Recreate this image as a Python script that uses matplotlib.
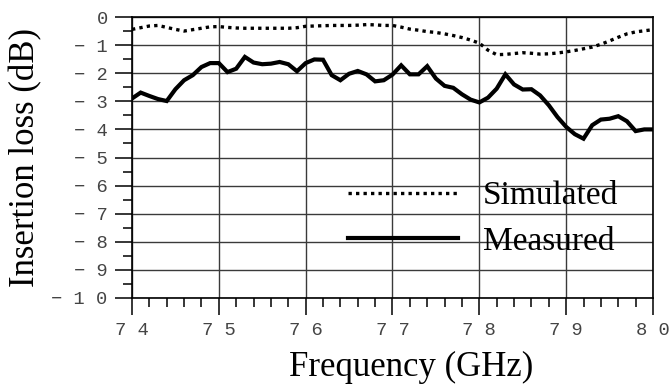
import numpy as np
import matplotlib
matplotlib.use("Agg")
import matplotlib.pyplot as plt
from matplotlib.ticker import MultipleLocator

# frequency grid (GHz), 0.1 GHz step
freq = [74.0, 74.1, 74.2, 74.3, 74.4, 74.5, 74.6, 74.7, 74.8, 74.9,
        75.0, 75.1, 75.2, 75.3, 75.4, 75.5, 75.6, 75.7, 75.8, 75.9,
        76.0, 76.1, 76.2, 76.3, 76.4, 76.5, 76.6, 76.7, 76.8, 76.9,
        77.0, 77.1, 77.2, 77.3, 77.4, 77.5, 77.6, 77.7, 77.8, 77.9,
        78.0, 78.1, 78.2, 78.3, 78.4, 78.5, 78.6, 78.7, 78.8, 78.9,
        79.0, 79.1, 79.2, 79.3, 79.4, 79.5, 79.6, 79.7, 79.8, 79.9,
        80.0]

# insertion loss in dB (S21)
simulated = [-0.44, -0.38, -0.32, -0.30, -0.37, -0.44, -0.50, -0.45, -0.40, -0.35,
             -0.34, -0.37, -0.39, -0.40, -0.40, -0.40, -0.40, -0.40, -0.40, -0.38,
             -0.33, -0.32, -0.31, -0.30, -0.30, -0.30, -0.29, -0.27, -0.28, -0.30,
             -0.30, -0.36, -0.43, -0.47, -0.52, -0.55, -0.60, -0.66, -0.73, -0.82,
             -0.93, -1.18, -1.34, -1.33, -1.30, -1.27, -1.29, -1.32, -1.31, -1.28,
             -1.24, -1.19, -1.13, -1.07, -0.97, -0.85, -0.72, -0.60, -0.53, -0.49,
             -0.45]

measured = [-2.90, -2.69, -2.81, -2.92, -2.99, -2.57, -2.25, -2.07, -1.78, -1.64,
            -1.64, -1.96, -1.84, -1.42, -1.62, -1.68, -1.66, -1.60, -1.68, -1.93,
            -1.64, -1.51, -1.52, -2.07, -2.25, -2.02, -1.92, -2.04, -2.29, -2.25,
            -2.05, -1.72, -2.04, -2.04, -1.75, -2.19, -2.45, -2.52, -2.75, -2.94,
            -3.04, -2.87, -2.55, -2.04, -2.40, -2.58, -2.57, -2.79, -3.14, -3.56,
            -3.91, -4.17, -4.33, -3.85, -3.65, -3.62, -3.53, -3.71, -4.06, -4.00,
            -4.00]

xticks = [74, 75, 76, 77, 78, 79, 80]
xticklabels = ["7 4", "7 5", "7 6", "7 7", "7 8", "7 9", "8 0"]
yticks = [0, -1, -2, -3, -4, -5, -6, -7, -8, -9, -10]
yticklabels = ["0", "\u2212 1", "\u2212 2", "\u2212 3", "\u2212 4", "\u2212 5",
               "\u2212 6", "\u2212 7", "\u2212 8", "\u2212 9", "\u2212 1 0"]

SERIF = ["Liberation Serif", "DejaVu Serif"]
MONO = ["Liberation Mono", "DejaVu Sans Mono"]

fig = plt.figure(figsize=(6.7, 3.85), dpi=100)
ax = fig.add_axes([0.197, 0.226, 0.7776, 0.7298])

# dotted = simulated, solid = measured
ax.plot(freq, simulated, color="black", linewidth=2.4,
        linestyle=(0, (1.0, 1.25)), dash_capstyle="butt", label="Simulated", zorder=3)
ax.plot(freq, measured, color="black", linewidth=3.0,
        solid_joinstyle="miter", label="Measured", zorder=3)

ax.set_xlim(74, 80)
ax.set_ylim(-10, 0)

ax.set_xticks(xticks)
ax.set_xticklabels(xticklabels, family=MONO, fontsize=13.5, color="#444")
ax.set_yticks(yticks)
ax.set_yticklabels(yticklabels, family=MONO, fontsize=13.5, color="#444")
ax.xaxis.set_minor_locator(MultipleLocator(0.2))
ax.yaxis.set_minor_locator(MultipleLocator(0.5))

ax.tick_params(which="major", direction="out", length=12.5, width=1.1, pad=5, color="black")
ax.tick_params(which="minor", direction="out", length=6.3, width=1.1, color="black")

ax.grid(True, which="major", color="#3a3a3a", linewidth=1.0, zorder=0)
for s in ax.spines.values():
    s.set_linewidth(1.2)
    s.set_color("black")

ax.set_xlabel("Frequency (GHz)", family=SERIF, fontsize=25)
ax.set_ylabel("Insertion loss (dB)", family=SERIF, fontsize=25)
ax.xaxis.set_label_coords(0.535, -0.19)
ax.yaxis.set_label_coords(-0.172, 0.5)

ax.legend(loc="center left", bbox_to_anchor=(0.415, 0.282), frameon=False,
          prop={"family": SERIF, "size": 24}, handlelength=3.3,
          handletextpad=0.75, labelspacing=0.45, borderpad=0, borderaxespad=0)

fig.savefig("out.png", dpi=100)
